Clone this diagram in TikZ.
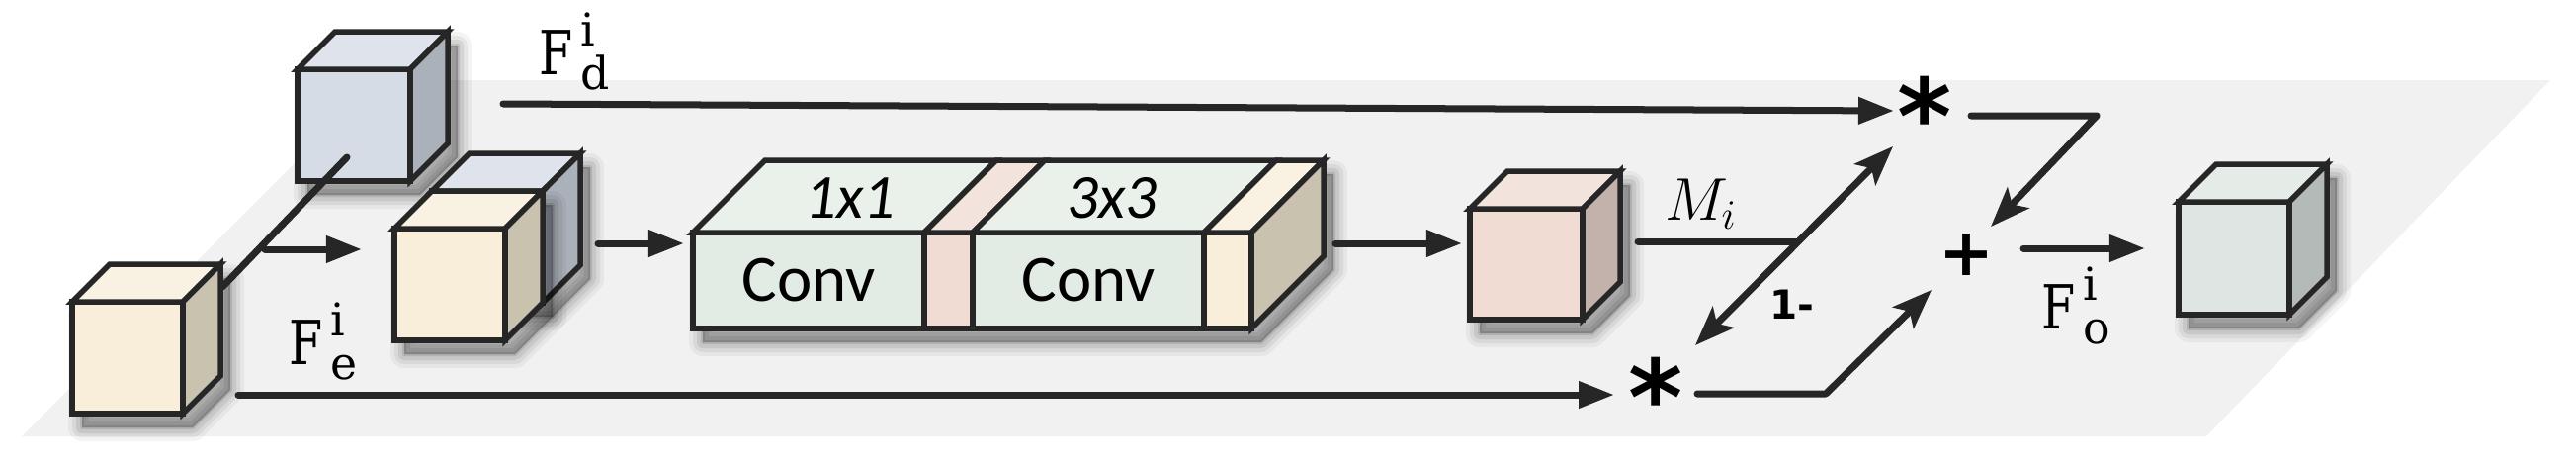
\documentclass[tikz,border=0pt]{standalone}
\usepackage{fontspec}
\usetikzlibrary{arrows.meta}
\newfontfamily\dvserif{DejaVu Serif}
\newfontfamily\dvsans{DejaVu Sans}
\newfontfamily\carlito{Carlito}
\definecolor{linec}{HTML}{262626}
\definecolor{planec}{HTML}{F1F1F1}
\definecolor{yfront}{HTML}{F8EEDA}
\definecolor{ytop}{HTML}{F9F2E2}
\definecolor{yside}{HTML}{C8C2AF}
\definecolor{bfront}{HTML}{D5DCE5}
\definecolor{btop}{HTML}{DFE3EB}
\definecolor{bside}{HTML}{ABB1BB}
\definecolor{gfront}{HTML}{E2ECE4}
\definecolor{gtop}{HTML}{E9F1EA}
\definecolor{pfront}{HTML}{F1DCD4}
\definecolor{ptop}{HTML}{F3E3DD}
\definecolor{pside}{HTML}{C3B1AB}
\definecolor{ofront}{HTML}{DFE5E2}
\definecolor{otop}{HTML}{E5EBE7}
\definecolor{oside}{HTML}{B4BAB8}
\newcommand{\Flab}[2]{{\fontsize{17.5}{17.5}\selectfont\dvserif\scalebox{0.8}[1]{F}}\kern2.5pt\rlap{\raisebox{8pt}{\fontsize{13}{13}\selectfont\dvserif #1}}\raisebox{-4.5pt}{\fontsize{13}{13}\selectfont\dvserif #2}}
\newcommand{\shadowpoly}[1]{%
  \foreach \k/\o in {28/0.045,20/0.06,12/0.08,4/0.1}{%
    \fill[black,opacity=\o,draw=black,line width=\k*0.01cm,line join=round,shift={(10,14)}] #1;}}
\newcommand{\cube}[9]{%
  \shadowpoly{(#2,{#3+#5}) -- (#2,#3) -- ({#2+#6},{#3-#6}) -- ({#2+#4+#6},{#3-#6}) -- ({#2+#4+#6},{#3+#5-#6}) -- ({#2+#4},{#3+#5}) -- cycle}
  \node[face, fill=#7, minimum width=#4*0.01cm, minimum height=#5*0.01cm] (#1) at (#2,#3) {};
  \draw[cubeline, fill=#8] (#1.north west) -- ++(#6,-#6) -- ++(#4,0) -- (#1.north east) -- cycle;
  \draw[cubeline, fill=#9] (#1.north east) -- ++(#6,-#6) -- ++(0,#5) -- (#1.south east) -- cycle;
}
\tikzset{
  cubeline/.style={draw=linec, line width=0.055cm, line join=miter},
  face/.style={cubeline, inner sep=0pt, outer sep=0pt, anchor=north west},
  conn/.style={draw=linec, line width=0.07cm, line cap=round},
  arr/.style={conn, -{Triangle[length=3.6mm,width=2.6mm]}},
  darr/.style={conn, -{Stealth[length=4mm,width=3mm,inset=0.9mm]}},
  ddarr/.style={conn, {Stealth[length=4mm,width=3mm,inset=0.9mm]}-{Stealth[length=4mm,width=3mm,inset=0.9mm]}},
  lab/.style={inner sep=0pt, outer sep=0pt, text=black},
  convtxt/.style={font=\fontsize{19}{19}\selectfont\carlito},
  toptxt/.style={lab, font=\fontsize{18}{18}\selectfont\carlito\itshape},
  optxt/.style={lab, font=\fontsize{30}{30}\selectfont\dvsans\bfseries},
}
\begin{document}
\begin{tikzpicture}[x=0.01cm,y=-0.01cm]
\useasboundingbox (0,0) rectangle (2606,472);
% plane
\fill[planec] (22,441) -- (2232,441) -- (2580,81) -- (382,81) -- cycle;
% cubes
\cube{dec}{301}{70}{114}{113}{38}{bfront}{btop}{bside}
\cube{enc}{73}{305}{112}{113}{38}{yfront}{ytop}{yside}
\cube{catb}{437}{193}{112}{113}{38}{bfront}{btop}{bside}
\cube{cat}{399}{231}{112}{113}{38}{yfront}{ytop}{yside}
% conv block
\shadowpoly{(701,332) -- (701,235) -- (774,162) -- (1339,162) -- (1339,259) -- (1266,332) -- cycle}
\node[face, fill=gfront, minimum width=234*0.01cm, minimum height=97*0.01cm, convtxt] (c1) at (701,235) {Conv};
\node[face, fill=pfront, minimum width=49*0.01cm, minimum height=97*0.01cm] (s1) at (935,235) {};
\node[face, fill=gfront, minimum width=234*0.01cm, minimum height=97*0.01cm, convtxt] (c2) at (984,235) {Conv};
\node[face, fill=yfront, minimum width=48*0.01cm, minimum height=97*0.01cm] (s2) at (1218,235) {};
\draw[cubeline, fill=gtop] (c1.north west) -- ++(73,-73) -- ++(234,0) -- (c1.north east) -- cycle;
\draw[cubeline, fill=ptop] (s1.north west) -- ++(73,-73) -- ++(49,0) -- (s1.north east) -- cycle;
\draw[cubeline, fill=gtop] (c2.north west) -- ++(73,-73) -- ++(234,0) -- (c2.north east) -- cycle;
\draw[cubeline, fill=ytop] (s2.north west) -- ++(73,-73) -- ++(48,0) -- (s2.north east) -- cycle;
\draw[cubeline, fill=yside] (s2.north east) -- ++(73,-73) -- ++(0,97) -- (s2.south east) -- cycle;
\node[toptxt] (k1) at (860,200) {1x1};
\node[toptxt] (k3) at (1125,200) {3x3};
\cube{mask}{1487}{211}{114}{112}{38}{pfront}{ptop}{pside}
\cube{out}{2204}{204}{112}{114}{38}{ofront}{otop}{oside}
% operators
\node[optxt] (st1) at (1947,116) {*};
\node[optxt] (st2) at (1675,400) {*};
\node[lab, font=\fontsize{19}{19}\selectfont\dvsans\bfseries] (plus) at (1989,258) {+};
% labels
\node[lab, anchor=base west] (fd) at (545,75) {\Flab{i}{d}};
\node[lab, anchor=base west] (fe) at (292,368) {\Flab{i}{e}};
\node[lab, anchor=base west] (fo) at (2065,332) {\Flab{i}{o}};
\node[lab, anchor=base west, font=\fontsize{18.5}{18.5}\selectfont] (mi) at (1684,222) {$M_i$};
\node[lab, font=\fontsize{11.5}{11.5}\selectfont\dvsans\bfseries] (om) at (1813,308) {1-};
% connectors
\coordinate (la) at (225,290);
\coordinate (lb) at (351,159);
\draw[conn] (la) -- (lb);
\coordinate (a1s) at (268,252);
\draw[arr, shorten >=0.33cm] (a1s) -- (a1s -| cat.west);
\coordinate (a2s) at (605,246);
\draw[arr, shorten >=0.09cm] (a2s) -- (a2s -| c1.west);
\coordinate (a3s) at (1351,246);
\draw[arr, shorten >=0.08cm] (a3s) -- (a3s -| mask.west);
\coordinate (fds) at (509,105);
\coordinate (fdt) at (1916,112);
\draw[arr] (fds) -- (fdt);
\coordinate (fes) at (241,399);
\coordinate (fet) at (1633,399);
\draw[arr] (fes) -- (fet);
\coordinate (ms) at (1657,244);
\coordinate (me) at (1818,244);
\draw[conn] (ms) -- (me);
\coordinate (dd1) at (1715,349);
\coordinate (dd2) at (1915,148);
\draw[ddarr] (dd1) -- (dd2);
\coordinate (b1) at (1717,398);
\coordinate (b2) at (1847,398);
\coordinate (b3) at (1954,293);
\draw[darr, line join=round] (b1) -- (b2) -- (b3);
\coordinate (t1) at (1994,117);
\coordinate (t2) at (2121,117);
\coordinate (t3) at (2014,229);
\draw[darr, line join=round] (t1) -- (t2) -- (t3);
\coordinate (ps) at (2047,251);
\draw[arr, shorten >=0.34cm] (ps) -- (ps -| out.west);
\end{tikzpicture}
\end{document}
